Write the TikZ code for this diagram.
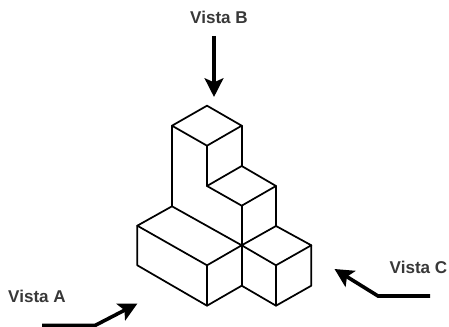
\documentclass[tikz,border=0pt]{standalone}
\usepackage{fontspec}
\setmainfont{Liberation Sans}
\usetikzlibrary{arrows.meta}
\definecolor{labelgray}{HTML}{383838}
\tikzset{
  edge/.style={line width=1.3pt,line join=round,line cap=round},
  viewarrow/.style={line width=2.7pt,line join=miter,-{Stealth[length=14pt,width=14pt,inset=3pt]}},
  viewlabel/.style={font=\bfseries\fontsize{12.8}{14}\selectfont,text=labelgray,inner sep=0pt}
}
\begin{document}
\begin{tikzpicture}[x=0.75pt,y=-0.75pt]
  \useasboundingbox (0,0) rectangle (449,327);

  %%%% Tower
  \draw[edge] (207,105.7) -- (241.7,125.7) -- (207,145.7) -- (172,125.7) -- cycle;
  \draw[edge] (172,125.7) -- (172,206.3);
  \draw[edge] (207,145.7) -- (207,186);
  \draw[edge] (241.7,125.7) -- (241.7,166);

  %%%% Step
  \draw[edge] (207,186) -- (241.7,166) -- (276,186) -- (241.7,205.7) -- cycle;
  \draw[edge] (276,186) -- (276,226);
  \draw[edge] (241.7,205.7) -- (241.7,285.7);

  %%%% Left block
  \draw[edge] (172,206.3) -- (137.3,225.7) -- (207,265.3) -- (241.7,245.3) -- cycle;
  \draw[edge] (137.3,225.7) -- (137.3,265.3) -- (207,305.7) -- (207,265.3);
  \draw[edge] (207,305.7) -- (241.7,285.7);

  %%%% Right block
  \draw[edge] (241.7,245.3) -- (276,226) -- (311.3,245.3) -- (276,265.3) -- cycle;
  \draw[edge] (311.3,245.3) -- (311.3,285.7) -- (276,305.7) -- (276,265.3);
  \draw[edge] (276,305.7) -- (241.7,285.7);

  %%%% Views
  \coordinate (startA) at (42,325.5);
  \coordinate (bendA) at (95,325.5);
  \coordinate (tipA) at (137.5,303.5);
  \coordinate (startB) at (214,36);
  \coordinate (tipB) at (214,97);
  \coordinate (startC) at (430,296);
  \coordinate (bendC) at (378,296);
  \coordinate (tipC) at (334.5,269);

  \draw[viewarrow] (startA) -- (bendA) -- (tipA);
  \draw[viewarrow] (startB) -- (tipB);
  \draw[viewarrow] (startC) -- (bendC) -- (tipC);

  \node[viewlabel] (vistaA) at (37,296) {Vista A};
  \node[viewlabel] (vistaB) at (219,17) {Vista B};
  \node[viewlabel] (vistaC) at (418.5,267) {Vista C};
\end{tikzpicture}
\end{document}
